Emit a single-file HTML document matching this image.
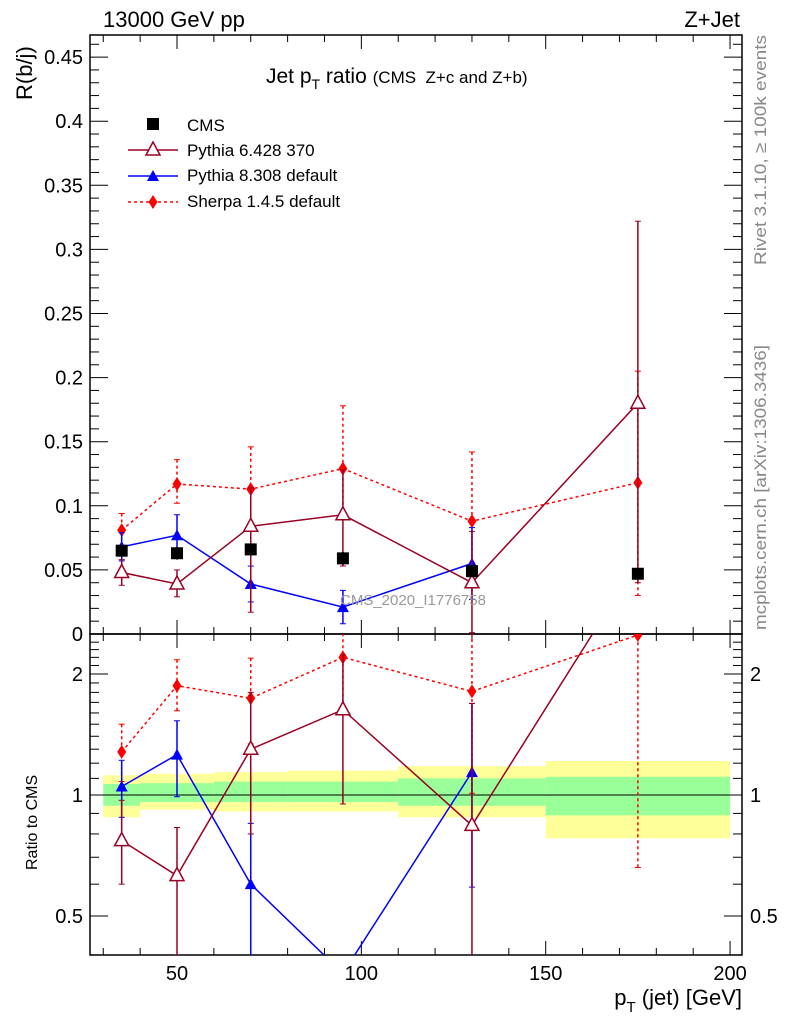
<!DOCTYPE html>
<html><head><meta charset="utf-8"><style>
html,body{margin:0;background:#fff;width:786px;height:1024px;overflow:hidden;}
svg{display:block;font-family:"Liberation Sans",Arial,sans-serif;}
</style></head><body>
<svg id="c" width="786" height="1024" viewBox="0 0 786 1024"></svg>
<script>
const xs=[35,50,70,95,130,175];
const cms=[0.065,0.063,0.066,0.059,0.049,0.047];
const cmsErr=[0.004,0.005,0.005,0.005,0.004,0.004];
const p6=[0.048,0.039,0.084,0.093,0.040,0.180];
const p6Up=[0.010,0.011,0.03,0.035,0.04,0.142];
const p6Dn=[0.010,0.010,0.067,0.04,0.04,0.14];
const p8=[0.068,0.077,0.039,0.021,0.055];
const p8Err=[0.011,0.016,0.014,0.013,0.028];
const sh=[0.081,0.117,0.113,0.129,0.088,0.118];
const shUp=[0.013,0.019,0.033,0.049,0.054,0.087];
const shDn=[0.012,0.015,0.03,0.04,0.048,0.088];
const rP6=[0.77,0.63,1.3,1.63,0.84,3.8];
const rP6Up=[0.2,0.2,0.5,0.6,0.85,1];
const rP6Dn=[0.17,0.23,0.5,0.68,0.6,1];
const rP8=[1.05,1.26,0.6,0.36,1.14];
const rP8Err=[0.17,0.27,0.25,0.02,0.55];
const rSh=[1.28,1.87,1.74,2.2,1.81,2.5];
const rShUp=[0.22,0.3,0.45,0.6,0.9,1];
const rShDn=[0.2,0.25,0.4,0.6,0.8,1.84];
const binEdges=[30,40,60,80,110,150,200];
const greenLo=[0.94,0.96,0.96,0.96,0.94,0.89];
const greenHi=[1.065,1.07,1.08,1.08,1.1,1.11];
const yellowLo=[0.88,0.92,0.91,0.91,0.88,0.78];
const yellowHi=[1.12,1.13,1.14,1.15,1.18,1.215];
const xTicks=[50,100,150,200];
const yTicks=[0,0.05,0.1,0.15,0.2,0.25,0.3,0.35,0.4,0.45];
const yTickLabels=["0","0.05","0.1","0.15","0.2","0.25","0.3","0.35","0.4","0.45"];
const rTicks=[0.5,1,2];

const svg=document.getElementById('c');
const NS='http://www.w3.org/2000/svg';
const L=90,R=742,T=35,M=634,B=955;
const X=v=>177+(v-50)*3.687;
const Y=v=>634-v*1282;
const RY=v=>795-Math.log2(v)*121;
function el(t,a,p){const e=document.createElementNS(NS,t);for(const k in a)e.setAttribute(k,a[k]);(p||svg).appendChild(e);return e;}
const defs=el('defs',{});
const c1=el('clipPath',{id:'cm'},defs);el('rect',{x:L,y:T,width:R-L,height:M-T},c1);
const c2=el('clipPath',{id:'cr'},defs);el('rect',{x:L,y:M,width:R-L,height:B-M},c2);

const gb=el('g',{'clip-path':'url(#cr)'});


for(let i=0;i<binEdges.length-1;i++){
  const x1=X(binEdges[i]),x2=X(binEdges[i+1]);
  const yb=el('rect',{x:x1,y:RY(yellowHi[i]),width:x2-x1,height:RY(yellowLo[i])-RY(yellowHi[i]),fill:'#ffff99'},gb);
  
  
  const g=el('rect',{x:x1,y:RY(greenHi[i]),width:x2-x1,height:RY(greenLo[i])-RY(greenHi[i]),fill:'#99ff99'},gb);
  
  
}
el('line',{x1:L,x2:R,y1:RY(1),y2:RY(1),stroke:'#000','stroke-width':1});

function frame(y1,y2){el('rect',{x:L,y:y1,width:R-L,height:y2-y1,fill:'none',stroke:'#000','stroke-width':1.5});}
frame(T,M);frame(M,B);
function xt(y1,y2){
  for(let v=30;v<=200;v+=10){const big=v%50===0;const x=X(v);
    el('line',{x1:x,x2:x,y1:y2,y2:y2-(big?14:7),stroke:'#000'});
    el('line',{x1:x,x2:x,y1:y1,y2:y1+(big?14:7),stroke:'#000'});}
}
xt(T,M);xt(M,B);
for(let v=0;v<=0.465;v+=0.01){const y=Y(v);const big=Math.abs(v/0.05-Math.round(v/0.05))<1e-6;
  el('line',{x1:L,x2:L+(big?18:9),y1:y,y2:y,stroke:'#000'});
  el('line',{x1:R,x2:R-(big?18:9),y1:y,y2:y,stroke:'#000'});}
yTicks.forEach((v,i)=>{const t=el('text',{x:83,y:Y(v)+7,'text-anchor':'end','font-size':20});t.textContent=yTickLabels[i];
 });
for(let v=0.4;v<=2.5;v+=0.1){const y=RY(v);if(y<M||y>B)continue;const big=[0.5,1,2].some(a=>Math.abs(a-v)<1e-6);
  el('line',{x1:L,x2:L+(big?18:9),y1:y,y2:y,stroke:'#000'});
  el('line',{x1:R,x2:R-(big?18:9),y1:y,y2:y,stroke:'#000'});}
rTicks.forEach(v=>{const y=RY(v);
  const a=el('text',{x:83,y:y+7,'text-anchor':'end','font-size':20});a.textContent=String(v);
  
  const b=el('text',{x:750,y:y+7,'font-size':20});b.textContent=String(v);
  });
xTicks.forEach(v=>{const t=el('text',{x:X(v),y:980,'text-anchor':'middle','font-size':20});t.textContent=v;
 });

function series(g,vals,up,dn,yf,color,dash,marker,name){
  const grp=el('g',{},g);
  
  
  const pts=vals.map((v,i)=>[X(xs[i]),yf(v)]);
  if(color){el('polyline',{points:pts.map(p=>p.join(',')).join(' '),fill:'none',stroke:color,'stroke-width':1.5,'stroke-dasharray':dash||''},grp);}
  vals.forEach((v,i)=>{
    const x=X(xs[i]);const c=color||'#000';
    const yU=yf(v+up[i]),yD=yf(Math.max(v-dn[i],1e-3));
    el('line',{x1:x,x2:x,y1:yU,y2:yD,stroke:c,'stroke-width':1.5,'stroke-dasharray':dash||''},grp);
    if(color){el('line',{x1:x-3,x2:x+3,y1:yU,y2:yU,stroke:c},grp);el('line',{x1:x-3,x2:x+3,y1:yD,y2:yD,stroke:c},grp);}
    const y=yf(v);
    if(marker==='sq')el('rect',{x:x-6,y:y-6,width:12,height:12,fill:'#000'},grp);
    if(marker==='otri')el('polygon',{points:`${x},${y-8} ${x-7},${y+5} ${x+7},${y+5}`,fill:'#fff',stroke:color,'stroke-width':1.5},grp);
    if(marker==='tri')el('polygon',{points:`${x},${y-6} ${x-6},${y+5} ${x+6},${y+5}`,fill:color},grp);
    if(marker==='dia')el('polygon',{points:`${x},${y-7} ${x-4.5},${y} ${x},${y+7} ${x+4.5},${y}`,fill:color},grp);
  });
}
const gm=el('g',{'clip-path':'url(#cm)'});
series(gm,sh,shUp,shDn,Y,'#ff0000','3,3','dia','sherpa-series');
series(gm,p8,p8Err,p8Err,Y,'#0000ff','','tri','pythia8-series');
series(gm,p6,p6Up,p6Dn,Y,'#990022','','otri','pythia6-series');
series(gm,cms,cmsErr,cmsErr,Y,null,'','sq','cms-data');
const gr=el('g',{'clip-path':'url(#cr)'});
series(gr,rSh,rShUp,rShDn,RY,'#ff0000','3,3','dia','sherpa-ratio');
series(gr,rP8,rP8Err,rP8Err,RY,'#0000ff','','tri','pythia8-ratio');
series(gr,rP6,rP6Up,rP6Dn,RY,'#990022','','otri','pythia6-ratio');

function txt(s,a,name){const t=el('text',a);t.innerHTML=s;return t;}
txt('13000 GeV pp',{x:103,y:27,'font-size':22},'header-left');
txt('Z+Jet',{x:740,y:27,'font-size':22,'text-anchor':'end'},'header-right');
txt('Jet p<tspan font-size="14" dy="6">T</tspan><tspan dy="-6"> ratio </tspan><tspan font-size="17" xml:space="preserve">(CMS  Z+c and Z+b)</tspan>',{x:266,y:83,'font-size':21,'xml:space':'preserve'},'plot-title');
txt('R(b/j)',{x:0,y:0,'font-size':22,transform:'translate(32,100) rotate(-90)'},'y-axis-title');
txt('Ratio to CMS',{x:0,y:0,'font-size':16,transform:'translate(37,870) rotate(-90)'},'ratio-axis-title');
txt('p<tspan font-size="15" dy="7">T</tspan><tspan dy="-7"> (jet) [GeV]</tspan>',{x:742,y:1005,'font-size':22,'text-anchor':'end'},'x-axis-title');
txt('Rivet 3.1.10, ≥ 100k events',{x:0,y:0,'font-size':17,fill:'#888',textLength:230,lengthAdjust:'spacingAndGlyphs',transform:'translate(766,265) rotate(-90)'},'rivet-label');
txt('mcplots.cern.ch [arXiv:1306.3436]',{x:0,y:0,'font-size':17,fill:'#888',textLength:285,lengthAdjust:'spacingAndGlyphs',transform:'translate(766,630) rotate(-90)'},'mcplots-label');
txt('CMS_2020_I1776758',{x:340,y:605,'font-size':15,fill:'#999'},'analysis-watermark');

const lg=el('g',{});


el('rect',{x:147,y:118,width:12,height:12,fill:'#000'},lg);
txt('CMS',{x:187,y:131,'font-size':17},'legend-entry-cms');
el('line',{x1:128,x2:178,y1:150,y2:150,stroke:'#990022','stroke-width':1.5},lg);
el('polygon',{points:'153,142 146,155 160,155',fill:'#fff',stroke:'#990022','stroke-width':1.5},lg);
txt('Pythia 6.428 370',{x:187,y:156,'font-size':17},'legend-entry-pythia6');
el('line',{x1:128,x2:178,y1:176,y2:176,stroke:'#0000ff','stroke-width':1.5},lg);
el('polygon',{points:'153,170 147,181 159,181',fill:'#0000ff'},lg);
txt('Pythia 8.308 default',{x:187,y:181,'font-size':17},'legend-entry-pythia8');
el('line',{x1:128,x2:178,y1:202,y2:202,stroke:'#ff0000','stroke-width':1.5,'stroke-dasharray':'3,3'},lg);
el('polygon',{points:'153,195 148.5,202 153,209 157.5,202',fill:'#ff0000'},lg);
txt('Sherpa 1.4.5 default',{x:187,y:207,'font-size':17},'legend-entry-sherpa');
</script>
</body></html>
